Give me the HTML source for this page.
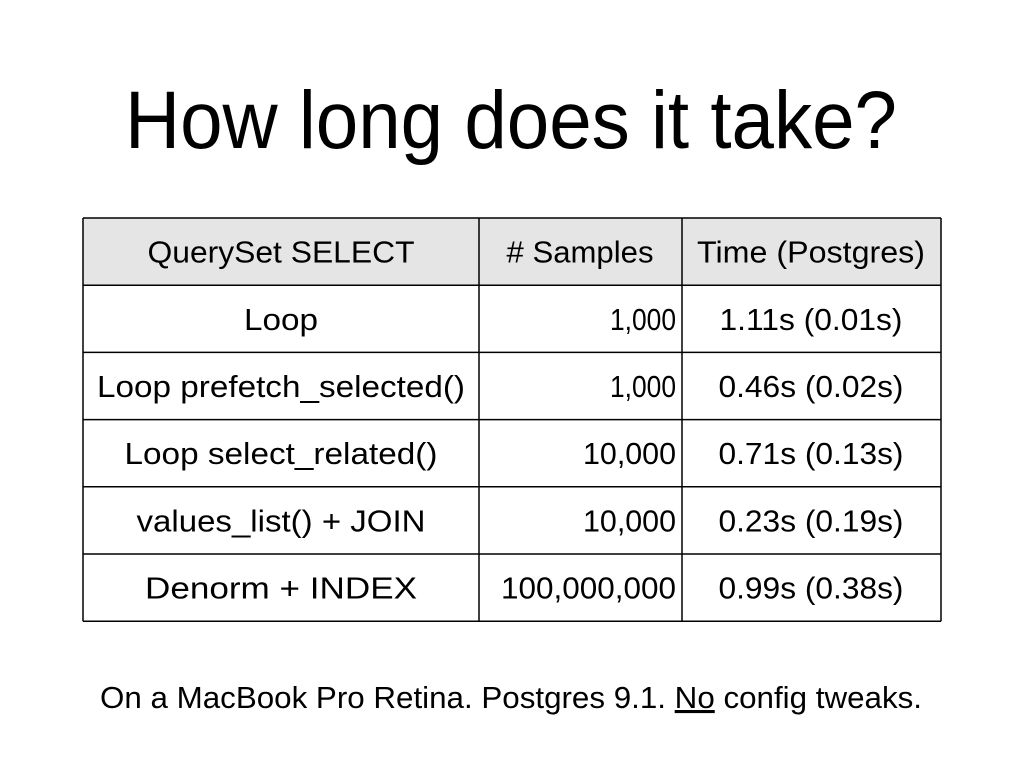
<!DOCTYPE html>
<html><head><meta charset="utf-8"><style>
html,body{margin:0;padding:0;background:#fff;}
svg{display:block;font-family:"Liberation Sans",sans-serif;}
</style></head><body>
<svg id="s" width="1024" height="768" viewBox="0 0 1024 768">
<rect width="1024" height="768" fill="#fff"/>
<text x="511" y="148" font-size="82" text-anchor="middle" textLength="772" lengthAdjust="spacingAndGlyphs">How long does it take?</text>
<g id="tbl"></g>
<text x="511" y="708" font-size="31" text-anchor="middle" textLength="822" lengthAdjust="spacingAndGlyphs">On a MacBook Pro Retina. Postgres 9.1. <tspan text-decoration="underline">No</tspan> config tweaks.</text>
</svg>
<script>
const headers = ["QuerySet SELECT", "# Samples", "Time (Postgres)"];
const headerWidths = [267, 147, 228];
const methods = ["Loop", "Loop prefetch_selected()", "Loop select_related()", "values_list() + JOIN", "Denorm + INDEX"];
const methodWidths = [74, 368, 313, 289, 272];
const samples = ["1,000", "1,000", "10,000", "10,000", "100,000,000"];
const sampleWidths = [66, 66, 93, 93, 175];
const times = ["1.11s (0.01s)", "0.46s (0.02s)", "0.71s (0.13s)", "0.23s (0.19s)", "0.99s (0.38s)"];
const timeWidths = [183, 185, 185, 185, 185];

const NS = "http://www.w3.org/2000/svg";
const tblG = document.getElementById('tbl');
const tblLeft = 83, tblRight = 941, tblTop = 218, rowH = 67.2;
const colX = [83, 479, 682, 941];
const centers = [281, 580, 811];
function mk(tag, attrs, parent) {
  const e = document.createElementNS(NS, tag);
  for (const k in attrs) e.setAttribute(k, attrs[k]);
  parent.appendChild(e);
  return e;
}
const nRows = methods.length + 1;
const tblBottom = tblTop + rowH * nRows;
const hdr = mk('rect', {x: tblLeft, y: tblTop, width: tblRight - tblLeft, height: rowH, fill: '#e5e5e5'}, tblG);


for (let c = 0; c < 3; c++) {
  const t = mk('text', {x: centers[c], y: tblTop + rowH / 2 + 11, 'font-size': 31, 'text-anchor': 'middle', textLength: headerWidths[c], lengthAdjust: 'spacingAndGlyphs'}, tblG);
  t.textContent = headers[c];
  
  
}
for (let r = 0; r < methods.length; r++) {
  const cy = tblTop + rowH * (r + 1) + rowH / 2 + 11;
  const a = mk('text', {x: centers[0], y: cy, 'font-size': 31, 'text-anchor': 'middle', textLength: methodWidths[r], lengthAdjust: 'spacingAndGlyphs'}, tblG);
  a.textContent = methods[r];
  
  
  const b = mk('text', {x: 676, y: cy, 'font-size': 31, 'text-anchor': 'end', textLength: sampleWidths[r], lengthAdjust: 'spacingAndGlyphs'}, tblG);
  b.textContent = samples[r];
  
  
  const d = mk('text', {x: centers[2], y: cy, 'font-size': 31, 'text-anchor': 'middle', textLength: timeWidths[r], lengthAdjust: 'spacingAndGlyphs'}, tblG);
  d.textContent = times[r];
  
  
}
for (let r = 0; r <= nRows; r++) {
  const y = tblTop + rowH * r;
  const l = mk('line', {x1: tblLeft, x2: tblRight, y1: y, y2: y, stroke: '#000', 'stroke-width': 1.5}, tblG);
  
  
}
for (const x of colX) {
  const l = mk('line', {x1: x, x2: x, y1: tblTop, y2: tblBottom, stroke: '#000', 'stroke-width': 1.5}, tblG);
  
  
}
</script>
</body></html>
